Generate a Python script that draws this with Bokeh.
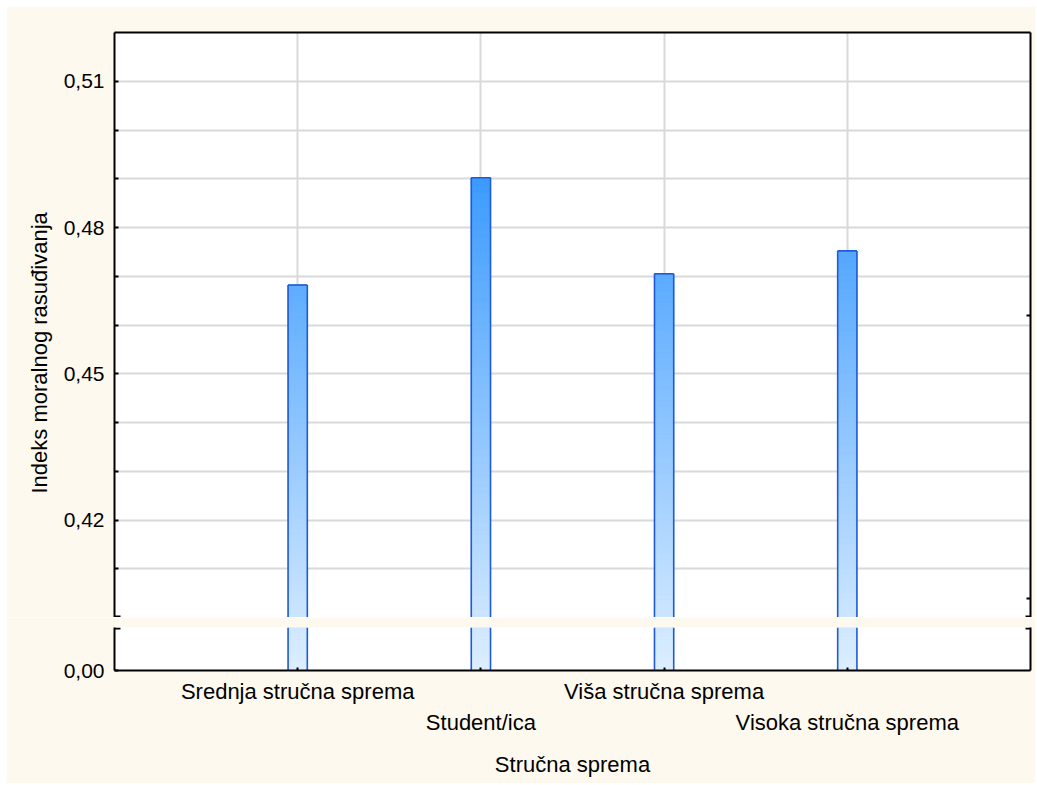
import math
from bokeh.plotting import figure
from bokeh.models import Range1d, FixedTicker, LinearAxis, CustomJSTickFormatter, BoxAnnotation, Title, Spacer
from bokeh.layouts import column, row
from bokeh.embed import file_html
from bokeh.resources import INLINE

# ---------------- data ----------------
categories = ["Srednja stručna sprema", "Student/ica", "Viša stručna sprema", "Visoka stručna sprema"]
positions = [1, 2, 3, 4]
values = [0.4682, 0.4902, 0.4705, 0.4752]
major_ticks = [0.42, 0.45, 0.48, 0.51]
grid_ticks = [0.41, 0.42, 0.43, 0.44, 0.45, 0.46, 0.47, 0.48, 0.49, 0.50, 0.51]
right_ticks = [0.404, 0.462]
upper_range = (0.40, 0.52)
lower_range = (0.0, 0.01)
x_title = "Stručna sprema"
y_title = "Indeks moralnog rasuđivanja"

# ---------------- style ----------------
CREAM = "#FEF9EE"
GRID = "#D9D9D9"
FONT = "Liberation Sans"
FS = "22px"
TFS = "21px"
BAR_W = 0.105
EDGE = "#1E5BD6"
OFF = 6
W = 1029
BL, BR = 108, 5
UP_TOP, UP_FRAME = 26, 585
LO_TOP, LO_FRAME, LO_BOTTOM = 10, 43, 113


def grad_color(page_y):
    r = 60 + 0.328 * (page_y - 177)
    g = 155 + 0.17 * (page_y - 177)
    r = max(0, min(255, r)); g = max(0, min(255, g))
    return "#%02x%02x%02x" % (int(r), int(g), 255)


xr = Range1d(0, 5)

def style_axis(ax):
    ax.axis_line_color = "black"
    ax.axis_line_width = 2
    ax.major_tick_line_color = "black"
    ax.major_tick_line_width = 2
    ax.minor_tick_line_color = None
    ax.major_label_text_font = FONT
    ax.major_label_text_font_size = FS
    ax.major_label_text_color = "black"
    ax.axis_label_text_font = FONT
    ax.axis_label_text_font_size = FS
    ax.axis_label_text_font_style = "normal"
    ax.axis_label_text_color = "black"

blank = CustomJSTickFormatter(code="return '';")

# ---------------- upper figure ----------------
p1 = figure(width=W, height=UP_TOP + UP_FRAME, x_range=xr, y_range=Range1d(*upper_range),
            output_backend="svg", toolbar_location=None, x_axis_location="above",
            min_border_left=BL, min_border_right=BR, min_border_top=UP_TOP, min_border_bottom=0,
            background_fill_color="white", border_fill_color=CREAM, outline_line_color=None)

top_ax = p1.xaxis[0]
style_axis(top_ax)
top_ax.ticker = FixedTicker(ticks=[])
top_ax.formatter = blank
top_ax.major_label_standoff = 0
top_ax.major_tick_line_color = None

lax = p1.yaxis[0]
style_axis(lax)
lax.major_label_text_font_size = TFS
lax.ticker = FixedTicker(ticks=grid_ticks)
lax.formatter = CustomJSTickFormatter(args=dict(major=major_ticks), code="""
for (const m of major) { if (Math.abs(tick - m) < 1e-6) return m.toFixed(2).replace('.', ','); }
return '';""")
lax.major_tick_in = 4
lax.major_tick_out = 0
lax.major_label_standoff = 10

rax = LinearAxis(ticker=FixedTicker(ticks=right_ticks), formatter=blank)
style_axis(rax)
rax.major_tick_in = 4
rax.major_tick_out = 0
rax.major_label_standoff = 0
p1.add_layout(rax, "right")

p1.xgrid.ticker = FixedTicker(ticks=positions)
p1.ygrid.ticker = FixedTicker(ticks=grid_ticks)
for g in (p1.xgrid[0], p1.ygrid[0]):
    g.grid_line_color = GRID
    g.grid_line_width = 2

def page_y_upper(v):
    return OFF + UP_TOP + (upper_range[1] - v) / (upper_range[1] - upper_range[0]) * UP_FRAME

def page_y_lower(v):
    base = OFF + UP_TOP + UP_FRAME + LO_TOP
    return base + (lower_range[1] - v) / (lower_range[1] - lower_range[0]) * LO_FRAME

N = 60
L, R, B, T, C = [], [], [], [], []
for x, v in zip(positions, values):
    lo = upper_range[0]
    for k in range(N):
        b = lo + (v - lo) * k / N
        t = lo + (v - lo) * (k + 1) / N
        L.append(x - BAR_W / 2); R.append(x + BAR_W / 2); B.append(b); T.append(t)
        C.append(grad_color(page_y_upper((b + t) / 2)))
p1.quad(left=L, right=R, bottom=B, top=T, fill_color=C, line_color=C, line_width=1)

x0s, y0s, x1s, y1s = [], [], [], []
for x, v in zip(positions, values):
    for sx in (x - BAR_W / 2, x + BAR_W / 2):
        x0s.append(sx); y0s.append(upper_range[0]); x1s.append(sx); y1s.append(v)
    x0s.append(x - BAR_W / 2); y0s.append(v); x1s.append(x + BAR_W / 2); y1s.append(v)
p1.segment(x0=x0s, y0=y0s, x1=x1s, y1=y1s, line_color=EDGE, line_width=1.6)

u_px = (upper_range[1] - upper_range[0]) / UP_FRAME
RX = W - BR
for lft, rgt in ((BL - 7, BL + 6), (RX - 5, RX + 3)):
    p1.add_layout(BoxAnnotation(left=lft, right=rgt, left_units="canvas", right_units="canvas",
                                bottom=upper_range[0], top=upper_range[0] + 2 * u_px,
                                fill_color="black", fill_alpha=1, line_color=None))

# y-axis title as a left-side title, starting 124 px above the upper frame bottom
p1.add_layout(Title(text=y_title, align="left", offset=124, standoff=17,
                    text_font=FONT, text_font_size=FS, text_font_style="normal",
                    text_color="black"), "left")

# ---------------- lower figure ----------------
p2 = figure(width=W, height=LO_TOP + LO_FRAME + LO_BOTTOM, x_range=xr, y_range=Range1d(*lower_range),
            output_backend="svg", toolbar_location=None,
            min_border_left=BL, min_border_right=BR, min_border_top=LO_TOP, min_border_bottom=LO_BOTTOM,
            background_fill_color="white", border_fill_color=CREAM, outline_line_color=None)

bax1 = p2.xaxis[0]
style_axis(bax1)
bax1.ticker = FixedTicker(ticks=positions)
bax1.formatter = CustomJSTickFormatter(args=dict(labels=categories, pos=positions), code="""
const i = pos.indexOf(Math.round(tick)); return (i >= 0 && i % 2 == 0) ? labels[i] : '';""")
bax1.major_tick_in = 3
bax1.major_tick_out = 0
bax1.major_label_standoff = 8

bax2 = LinearAxis(ticker=FixedTicker(ticks=positions))
style_axis(bax2)
bax2.formatter = CustomJSTickFormatter(args=dict(labels=categories, pos=positions), code="""
const i = pos.indexOf(Math.round(tick)); return (i >= 0 && i % 2 == 1) ? labels[i] : '';""")
bax2.axis_line_color = None
bax2.major_tick_line_color = None
bax2.major_label_standoff = -3
bax2.axis_label = x_title
bax2.axis_label_standoff = 14
p2.add_layout(bax2, "below")

lax2 = p2.yaxis[0]
style_axis(lax2)
lax2.major_label_text_font_size = TFS
lax2.ticker = FixedTicker(ticks=[lower_range[0]])
lax2.formatter = CustomJSTickFormatter(code="return tick.toFixed(2).replace('.', ',');")
lax2.major_tick_in = 4
lax2.major_tick_out = 0
lax2.major_label_standoff = 10

rax2 = LinearAxis(ticker=FixedTicker(ticks=[]), formatter=blank)
style_axis(rax2)
rax2.major_label_standoff = 0
p2.add_layout(rax2, "right")

p2.xgrid.visible = False
p2.ygrid.ticker = FixedTicker(ticks=[lower_range[1]])
p2.ygrid[0].grid_line_color = GRID
p2.ygrid[0].grid_line_width = 2

L, R, B, T, C = [], [], [], [], []
for x, v in zip(positions, values):
    lo, hi = lower_range
    for k in range(10):
        b = lo + (hi - lo) * k / 10
        t = lo + (hi - lo) * (k + 1) / 10
        L.append(x - BAR_W / 2); R.append(x + BAR_W / 2); B.append(b); T.append(t)
        C.append(grad_color(page_y_lower((b + t) / 2)))
p2.quad(left=L, right=R, bottom=B, top=T, fill_color=C, line_color=C, line_width=1)

x0s, y0s, x1s, y1s = [], [], [], []
for x in positions:
    for sx in (x - BAR_W / 2, x + BAR_W / 2):
        x0s.append(sx); y0s.append(lower_range[0]); x1s.append(sx); y1s.append(lower_range[1])
p2.segment(x0=x0s, y0=y0s, x1=x1s, y1=y1s, line_color=EDGE, line_width=1.6)

l_px = (lower_range[1] - lower_range[0]) / LO_FRAME
for lft, rgt in ((BL - 7, BL + 6), (RX - 5, RX + 3)):
    p2.add_layout(BoxAnnotation(left=lft, right=rgt, left_units="canvas", right_units="canvas",
                                bottom=lower_range[1] - 2 * l_px, top=lower_range[1],
                                fill_color="black", fill_alpha=1, line_color=None))

layout = row(Spacer(width=OFF), column(Spacer(height=OFF), p1, p2, spacing=0), spacing=0)
open("out.html", "w").write(file_html(layout, INLINE))
